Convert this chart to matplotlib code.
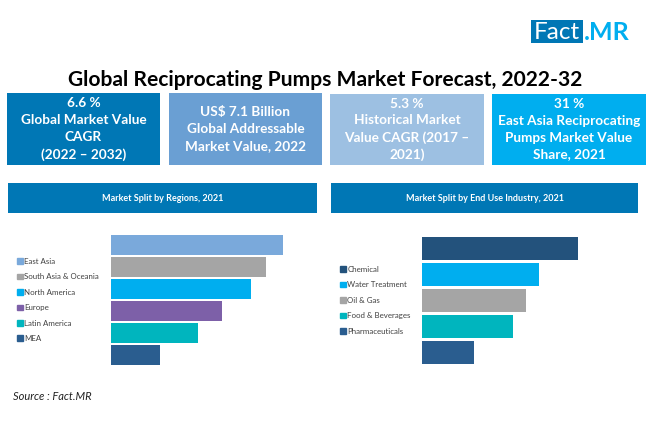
import matplotlib
matplotlib.use("Agg")
import matplotlib.pyplot as plt
from matplotlib.patches import Rectangle

plt.rcParams['font.family'] = ['Lato', 'DejaVu Sans']

W, H = 650, 443

title = "Global Reciprocating Pumps Market Forecast, 2022-32"

# kpi boxes
kpiText = [
    "6.6 %\nGlobal Market Value\nCAGR\n(2022 – 2032)",
    "US$ 7.1 Billion\nGlobal Addressable\nMarket Value, 2022",
    "5.3 %\nHistorical Market\nValue CAGR (2017 –\n2021)",
    "31 %\nEast Asia Reciprocating\nPumps Market Value\nShare, 2021",
]
kpiColors = ["#0077B5", "#6A9FD3", "#9DC0E2", "#00AEEF"]

regionTitle = "Market Split by Regions, 2021"
regions = ["East Asia", "South Asia & Oceania", "North America", "Europe", "Latin America", "MEA"]
regionValues = [31, 27.9, 25.2, 20, 15.7, 8.9]
regionColors = ["#7AA9DB", "#A5A5A5", "#00AEEF", "#7D60A8", "#00B5BE", "#2A5D8F"]

industryTitle = "Market Split by End Use Industry, 2021"
industries = ["Chemical", "Water Treatment", "Oil & Gas", "Food & Beverages", "Pharmaceuticals"]
industryValues = [30, 22.5, 20, 17.5, 10]
industryColors = ["#23527C", "#00AEEF", "#A5A5A5", "#00B5BE", "#2A5D8F"]


def pixelAxes(fig, x0, y0, x1, y1):
    # axes from pixel box, y measured from the top of the image
    return fig.add_axes([x0/W, 1-y1/H, (x1-x0)/W, (y1-y0)/H])


def splitChart(fig, box, names, values, colors, barHeight, legendXY, spacing):
    ax = pixelAxes(fig, *box)
    bars = ax.barh(range(len(names)), values, height=barHeight, color=colors)
    ax.set_xlim(0, max(values))
    ax.set_ylim(len(names)-0.5, -0.5)
    ax.axis("off")
    handles = [Rectangle((0, 0), 1, 1, color=c) for c in colors]
    fig.legend(handles, names, loc="upper left", bbox_to_anchor=(legendXY[0]/W, 1-legendXY[1]/H),
               frameon=False, fontsize=5.7, labelcolor="#404040", borderpad=0, borderaxespad=0,
               handlelength=0.7, handleheight=0.7, handletextpad=0.2, labelspacing=spacing)
    return bars


fig = plt.figure(figsize=(W/100, H/100), dpi=100)

# full page layer in pixel coords for the boxes and headings
page = fig.add_axes([0, 0, 1, 1])
page.set_xlim(0, W)
page.set_ylim(H, 0)
page.axis("off")

page.text(325, 80, title, ha="center", va="center", fontsize=15.15, fontweight="bold", color="black")

kpiBoxes = [(7, 93, 153, 72), (169, 93, 153, 72), (330, 94, 154, 71), (492, 94, 154, 71)]
for (x, y, w, h), txt, col in zip(kpiBoxes, kpiText, kpiColors):
    page.add_patch(Rectangle((x, y), w, h, color=col, lw=0))
    page.text(x+w/2, y+h/2, txt, ha="center", va="center", color="white", fontsize=9.8,
              fontweight="bold", linespacing=1.47)

for (x, w), txt in zip([(8, 309), (331, 307)], [regionTitle, industryTitle]):
    page.add_patch(Rectangle((x, 183), w, 30, color="#0077B5", lw=0))
    page.text(x+w/2, 198, txt, ha="center", va="center", color="white", fontsize=6.5, fontweight="bold")

# logo
page.add_patch(Rectangle((531, 20), 52, 23, color="#0077B5", lw=0))
page.text(557, 32, "Fact", ha="center", va="center", color="white", fontsize=17.5)
page.text(584, 32, ".MR", ha="left", va="center", color="#00AEEF", fontsize=18, fontweight="bold")

page.text(13, 397, "Source : Fact.MR", ha="left", va="center", fontsize=8, style="italic", color="#222222")

splitChart(fig, (111, 234, 283, 366), regions, regionValues, regionColors, 0.91, (17, 258), 1.06)
splitChart(fig, (422, 236, 578, 365), industries, industryValues, industryColors, 0.89, (340, 266), 1.06)

fig.savefig("out.png", dpi=100)
